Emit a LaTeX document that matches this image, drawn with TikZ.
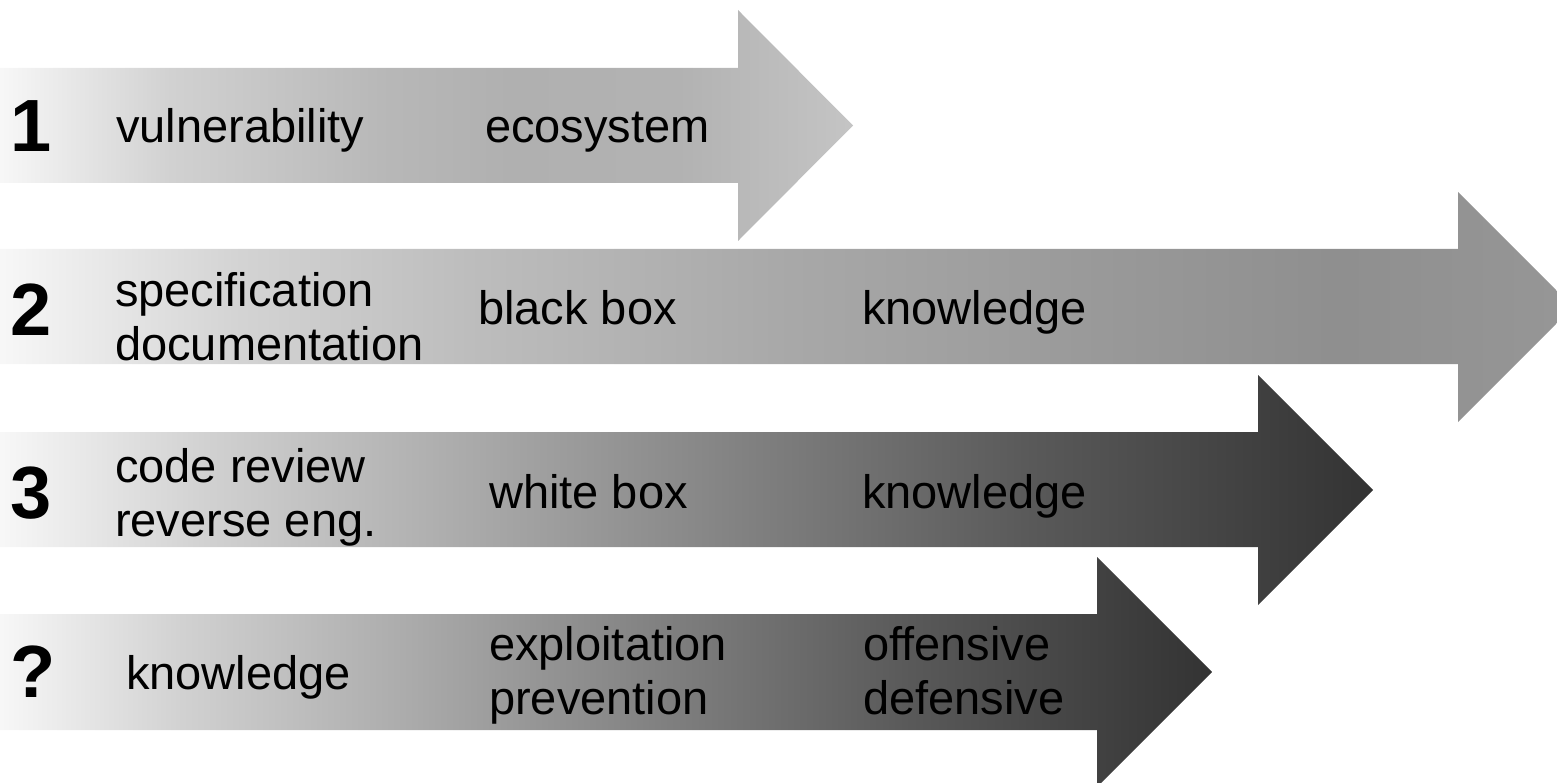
\documentclass[tikz,border=0pt]{standalone}
\usepackage{fontspec}
\setmainfont{Liberation Sans}
\pgfdeclarehorizontalshading{shadeA}{100bp}{color(0bp)=(black!3); color(25bp)=(black!3); color(35bp)=(black!18); color(47.5bp)=(black!28); color(55bp)=(black!31); color(65bp)=(black!30); color(75bp)=(black!23); color(100bp)=(black!23)}
\pgfdeclarehorizontalshading{shadeB}{100bp}{color(0bp)=(black!3); color(25bp)=(black!3); color(32.5bp)=(black!17); color(40bp)=(black!26); color(50bp)=(black!34); color(60bp)=(black!40); color(67.5bp)=(black!44); color(75bp)=(black!41); color(100bp)=(black!41)}
\pgfdeclarehorizontalshading{shadeC}{100bp}{color(0bp)=(black!3); color(25bp)=(black!3); color(32.5bp)=(black!18); color(42.5bp)=(black!34); color(52.5bp)=(black!50); color(62.5bp)=(black!65); color(75bp)=(black!80); color(100bp)=(black!80)}
\tikzset{
  arrowA/.style={shading=shadeA},
  arrowB/.style={shading=shadeB},
  arrowC/.style={shading=shadeC},
  lbl/.style={inner sep=0pt, anchor=base west, font=\fontsize{47}{54}\selectfont, align=left},
  num/.style={inner sep=0pt, anchor=base west, font=\fontsize{74}{80}\selectfont\bfseries}
}
\begin{document}
\begin{tikzpicture}[x=1pt,y=-1pt]
\useasboundingbox (0,0) rectangle (1557,783);
\clip (0,0) rectangle (1557,783);
% arrow 1
\shade[arrowA] (0,68) -- (738,68) -- (738,10) -- (853,125.5) -- (738,241) -- (738,183) -- (0,183) -- cycle;
% arrow 2
\shade[arrowB] (0,249) -- (1458,249) -- (1458,192) -- (1573,307) -- (1458,422) -- (1458,364) -- (0,364) -- cycle;
% arrow 3
\shade[arrowC] (0,432) -- (1258,432) -- (1258,375) -- (1373,490) -- (1258,605) -- (1258,547) -- (0,547) -- cycle;
% arrow 4
\shade[arrowC] (0,614) -- (1097,614) -- (1097,557) -- (1212,672) -- (1097,787) -- (1097,730) -- (0,730) -- cycle;

% row 1
\node[num] (n1) at (10,152) {1};
\node[lbl] (t11) at (116,143) {vulnerability};
\node[lbl] (t12) at (485,143) {ecosystem};
% row 2
\node[num] (n2) at (10,335) {2};
\node[lbl] (t21) at (115,360) {specification\\documentation};
\node[lbl] (t22) at (478,325) {black box};
\node[lbl] (t23) at (862,325) {knowledge};
% row 3
\node[num] (n3) at (10,518) {3};
\node[lbl] (t31) at (115,536) {code review\\reverse eng.};
\node[lbl] (t32) at (489,508) {white box};
\node[lbl] (t33) at (862,508) {knowledge};
% row 4
\node[num] (n4) at (10,697) {?};
\node[lbl] (t41) at (126,689) {knowledge};
\node[lbl] (t42) at (489,714) {exploitation\\prevention};
\node[lbl] (t43) at (863,714) {offensive\\defensive};
\end{tikzpicture}
\end{document}
